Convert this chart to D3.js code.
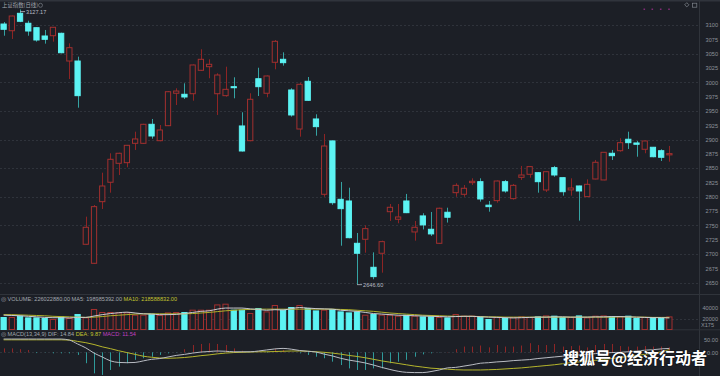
<!DOCTYPE html>
<html><head><meta charset="utf-8">
<script src="https://cdn.jsdelivr.net/npm/d3@7"></script>
<style>html,body{margin:0;padding:0;background:#1c1f26;overflow:hidden}svg{display:block}</style>
</head><body><svg id="c" width="720" height="376"></svg>
<script>
// ---------- DATA ----------
const openP = [3101.7,3090,3120.4,3103,3095.3,3080.8,3081.3,3085.5,3037.1,3037.1,
2717.1,2683.9,2791.5,2825.4,2858.5,2859.6,2893.4,2893.4,2926.6,2898,
2924.2,2980.8,2979,2980,3020.9,3027.2,2980,2976.6,2992.3,2923.7,
2898,3006.2,2980.8,3034.9,3040.1,2986.5,2918.4,3001.7,2935.9,2804.4,
2897.6,2795.6,2792.7,2718.8,2725.8,2676.9,2701.4,2774,2760.8,2792.7,
2738.6,2766.6,2743.3,2718.8,2773,2807.2,2804.4,2824.7,2826.4,2785.4,
2793.3,2826.4,2796.8,2834,2839.3,2842.1,2811.9,2850.9,2833.4,2812,
2818.9,2800.3,2831.1,2829.4,2876,2880.5,2900.5,2894,2883,2886.5,
2880.5,2873.2];
const closeP = [3092.5,3115.7,3106.5,3089.5,3073.8,3075,3096,3051.6,3060.4,2976.6,
2746.8,2782.8,2818.9,2865.5,2876,2889.9,2901,2926.6,2906.2,2916.7,
2983.5,2984.7,2974.3,3030.2,3040.1,3031.4,3012.7,2987.7,2990.5,2880,
2970.3,2992.3,3011,3071.5,3034.2,2942.9,2996.5,2968.5,2922.5,2888.7,
2789.7,2779.3,2728.6,2701.4,2744.4,2660.6,2721.7,2781.7,2764.8,2772.3,
2746.8,2750.9,2735.2,2780,2764.3,2820,2814.9,2827.1,2796.2,2782.8,
2827.6,2810.2,2820,2838.1,2852.7,2826.4,2843.8,2838.1,2808.9,2815.4,
2810.2,2821.8,2860.3,2877.7,2871.8,2894.5,2894.5,2891.7,2897.5,2870,
2869,2875.4];
const highP = [3105.2,3116.5,3127.17,3107.5,3096,3091.3,3096.5,3086.6,3068,3044.7,
2765.3,2785.7,2842.1,2876,2877,2890.5,2913.7,2927.5,2935.9,2925.4,
2984.7,2989.5,2998.2,3031,3057.6,3040.1,3015.7,3027.2,3008.7,2947.6,
2980.8,3025.4,3012,3073.8,3052.3,2989.5,2999.3,3009.2,2944.1,2909.7,
2898,2825.9,2815.9,2736.8,2750.2,2703,2723.4,2787.4,2787.4,2805,
2757.8,2771.3,2773.5,2781,2781,2823.6,2820.6,2832.3,2832.3,2792.7,
2828.5,2829.4,2822.4,2853.9,2853.5,2842.8,2844.5,2853.9,2834,2832.3,
2819.5,2830.5,2864.3,2878.3,2881.8,2902.3,2913.7,2897.5,2898,2887,
2883,2888.8];
const lowP = [3081.3,3075.6,3105,3081.3,3070.9,3067.4,3070.9,3050.6,3005.7,2955.6,
2716.5,2683,2778.7,2807.2,2838,2851.5,2881.8,2892.5,2901.5,2897,
2923.5,2960.3,2970.8,2967.8,3019.7,3007,2942.9,2974.8,2972,2879,
2897,2976,2973.8,3022.6,3029,2940,2905,2967.5,2906.7,2800,
2786,2714.6,2727.5,2646.6,2702.4,2656,2667.5,2757.8,2753.8,2771.5,
2723.4,2743,2731.6,2718,2755,2800,2800,2820.6,2791.5,2774,
2789.7,2807.2,2795,2829.4,2833.4,2807.2,2808.4,2835,2802,2802,
2758.4,2799.5,2830.5,2828.8,2864.3,2878.8,2883.5,2870,2876,2869,
2862.5,2861.3];
const volume = [21800,21800,24200,21100,21100,20000,18200,22900,20000,27300,
21100,36400,30900,30900,30200,30200,26000,26000,27800,25500,
30200,30900,30900,35100,35100,35100,44700,46000,35100,35100,
29100,38200,32000,43600,35100,40000,43600,38200,33800,35100,
36400,32000,30200,32000,26000,27300,26000,26000,24200,26000,
24200,22900,22900,21800,21100,27300,24200,24200,22900,18200,
21800,20000,21800,22900,21800,22900,24700,24200,21800,21800,
24700,21100,24200,24700,22900,22900,24200,20000,21800,21800,
20000,22900];
const volMA5 = [26000,25500,25000,24000,23000,22000,21500,21500,21000,22000,
22000,24500,27000,29000,30500,31500,30000,28500,28000,27000,
27000,27500,29000,31000,33000,34000,37000,39000,39000,39000,
37500,36500,35000,36000,35500,38000,40000,39000,38000,37500,
37000,35000,34000,33000,31000,29000,28000,27000,26000,25500,
25000,24500,24000,23500,23000,23500,24000,24000,23000,22500,
22000,21500,21000,21500,22000,22500,22500,23000,23000,22500,
22500,22500,23000,23000,23500,23500,23000,22500,22000,21500,
21500,21000];
const volMA10 = [27000,27000,26500,26000,25500,25000,24000,23500,23000,22500,
22000,22500,23500,25000,26000,27000,28000,28500,28500,28500,
28500,28500,28500,29000,30000,31000,32500,34000,35000,36000,
36500,37000,37000,37000,37000,37000,37000,37000,37000,37000,
37000,36500,36000,35000,34000,33000,31500,30000,29000,28000,
27000,26000,25500,25000,24500,24000,24000,24000,23500,23000,
23000,22500,22500,22500,22500,22500,22500,22500,22500,22500,
22500,22500,22500,22500,22500,23000,23000,22500,22500,22000,
22000,22000];
const dif = [51,51,51,51,51,51,51,51,47,32,
17,-3,-18,-33,-39,-40,-39,-33,-27,-24,
-18,-12,-8,-3,1,3,5,4,2,2,
2,5,9,13,15,12,7,4,1,-7,
-14,-23,-30,-35,-41,-49,-58,-66,-73,-77,
-78,-78,-74,-68,-60,-58,-53,-48,-42,-40,
-37,-35,-32,-30,-28,-24,-21,-18,-15,-13,
-10,-8,-5,-3,-1,0,2,5,8,10,
13,15];
const dea = [48,48,48,48,48,48,48,48,47,42,
37,30,21,14,6,-1,-8,-15,-19,-22,
-23,-22,-20,-17,-13,-10,-6,-3,-1,0,
1,2,2,3,4,5,5,4,2,0,
-3,-7,-12,-16,-21,-27,-33,-38,-43,-48,
-53,-57,-61,-63,-65,-67,-68,-68,-68,-67,
-66,-64,-62,-60,-57,-54,-51,-48,-44,-40,
-37,-34,-31,-28,-24,-20,-16,-12,-8,-4,
2,10];
const macdHist = [15,15,12,9,-3,-1,-4,-4,-4,-10,
-42,-81,-87,-68,-55,-42,-29,-23,-17,-10,
-4,-1,12,28,32,35,32,28,15,6,
2,3,-2,12,9,1,-4,-10,-17,-23,
-36,-49,-62,-68,-68,-62,-62,-42,-36,-29,
-17,-8,-4,-1,1,12,22,22,26,19,
28,22,22,26,35,28,28,32,22,24,
26,19,28,32,32,24,22,22,24,22,
22,19];
const priceTicks = [3100,3075,3050,3025,3000,2975,2950,2925,2900,2875,2850,2825,2800,2775,2750,2725,2700,2675,2650];
const priceGrid = [3100,3050,3000,2950,2900,2850,2800,2750,2700,2650];
const volTicks = [40000,20000];
const macdTicks = [50,0];
const highMark = {i:2, v:3127.17, label:"3127.17"};
const lowMark = {i:43, v:2646.60, label:"2646.60"};

// ---------- STYLE ----------
const BG="#1c1f26", UP="#a3302f", UPW="#8e2424", DN="#5cf3f3", DNW="#35a3a3", GRID="#2f333b", TXT="#8d929b";
const FONT="'Liberation Sans', Arial, sans-serif";

const svg = d3.select("#c");
svg.append("rect").attr("width",720).attr("height",376).attr("fill",BG);

const idx = d3.range(openP.length);
const x = d3.scaleBand().domain(idx).range([-0.5, 673.5]).paddingInner(0.24).paddingOuter(0.12);
const xc = i => x(i) + x.bandwidth()/2;
const y = d3.scaleLinear().domain([2650,3100]).range([282.7,25]);
const yv = d3.scaleLinear().domain([0,40000]).range([329.5,307.5]);
const ym = d3.scaleLinear().domain([-50,50]).range([365.3,339.3]);

// frame
svg.append("rect").attr("x",0).attr("y",0).attr("width",720).attr("height",1.5).attr("fill","#30343c");
svg.append("line").attr("x1",699.5).attr("x2",699.5).attr("y1",0).attr("y2",376).attr("stroke","#30343b");
[294.5,329.8].forEach(v=>svg.append("line").attr("x1",0).attr("x2",720).attr("y1",v).attr("y2",v).attr("stroke","#30343b"));

// price grid
svg.append("g").selectAll("line").data(priceGrid).join("line")
  .attr("x1",0).attr("x2",699).attr("y1",d=>Math.round(y(d))+0.5).attr("y2",d=>Math.round(y(d))+0.5)
  .attr("stroke",GRID).attr("stroke-dasharray","2,2");
// price axis
const yAxis = d3.axisRight(y).tickValues(priceTicks).tickSize(0).tickFormat(d3.format("d"));
const ga = svg.append("g").attr("transform","translate(718,0)").call(yAxis);
ga.select(".domain").remove();
ga.selectAll("text").attr("x",0).attr("text-anchor","end").attr("fill",TXT).style("font-size","5.6px").style("font-family",FONT);

// candles
const gC = svg.append("g");
idx.forEach(i=>{
  const o=openP[i], c=closeP[i], up = c>=o;
  const cx = Math.round(xc(i))+0.5;
  const top = y(Math.max(o,c)), bot = y(Math.min(o,c));
  gC.append("line").attr("x1",cx).attr("x2",cx).attr("y1",y(highP[i])).attr("y2",y(lowP[i]))
    .attr("stroke", up?UPW:DNW).attr("stroke-width",1);
  const h = Math.max(1, bot-top);
  gC.append("rect").attr("x",x(i)+0.5).attr("y",top).attr("width",x.bandwidth()-1).attr("height",h)
    .attr("fill", up?BG:DN).attr("stroke", up?UP:DN).attr("stroke-width",1);
});

// markers
[highMark, lowMark].forEach(m=>{
  const cx = xc(m.i), yy = y(m.v), ty = Math.max(yy + 2, 13.6);
  svg.append("line").attr("x1",cx).attr("x2",cx+5).attr("y1",ty-2).attr("y2",ty-2).attr("stroke","#b8bcc4").attr("stroke-width",0.8);
  svg.append("text").attr("x",cx+6).attr("y",ty).text(m.label).attr("fill","#b8bcc4").style("font-size","5.6px").style("font-family",FONT);
});

// title
svg.append("text").attr("x",2).attr("y",7.2).text("上证指数(日线)").attr("fill","#a3a8b0")
  .style("font-size","5.4px").style("font-family","'Noto Sans CJK SC', sans-serif");
svg.append("circle").attr("cx",40.5).attr("cy",5.3).attr("r",2).attr("fill","none").attr("stroke","#70757e").attr("stroke-width",0.8);
// top-right icons
[644.3,652.3,660.7,669].forEach(v=>svg.append("rect").attr("x",v-0.8).attr("y",8.6).attr("width",1.6).attr("height",1.2).attr("fill","#9c2f8a"));
svg.append("rect").attr("x",685.3).attr("y",3.3).attr("width",3).attr("height",3).attr("transform","rotate(45 686.8 4.8)").attr("fill","none").attr("stroke","#80858d").attr("stroke-width",0.7);
svg.append("rect").attr("x",692.5).attr("y",3.2).attr("width",4.3).attr("height",4).attr("fill","none").attr("stroke","#80858d").attr("stroke-width",0.7);

// ---------- VOLUME ----------
svg.append("line").attr("x1",0).attr("x2",699).attr("y1",Math.round(yv(20000))+0.5).attr("y2",Math.round(yv(20000))+0.5).attr("stroke",GRID).attr("stroke-dasharray","2,2");
const gV = svg.append("g");
idx.forEach(i=>{
  const up = closeP[i]>=openP[i];
  gV.append("rect").attr("x",x(i)+0.5).attr("y",yv(volume[i])).attr("width",x.bandwidth()-1).attr("height",yv(0)-yv(volume[i]))
    .attr("fill", up?BG:DN).attr("stroke", up?UP:DN).attr("stroke-width",1);
});
const lv = (arr)=>d3.line().x((d,i)=>xc(i)).y(d=>yv(d)).curve(d3.curveMonotoneX)(arr);
svg.append("path").attr("d",lv(volMA10)).attr("fill","none").attr("stroke","#b0b02a").attr("stroke-width",1);
svg.append("path").attr("d",lv(volMA5)).attr("fill","none").attr("stroke","#c9cbd0").attr("stroke-width",1);
const gva = svg.append("g").attr("transform","translate(718,0)").call(d3.axisRight(yv).tickValues(volTicks).tickSize(0).tickFormat(d3.format("d")));
gva.select(".domain").remove();
gva.selectAll("text").attr("x",0).attr("text-anchor","end").attr("fill",TXT).style("font-size","5.6px").style("font-family",FONT);
svg.append("text").attr("x",701).attr("y",327).text("X175").attr("fill",TXT).style("font-size","5.6px").style("font-family",FONT);

const vt = svg.append("text").attr("x",1).attr("y",301).style("font-size","5.6px").style("font-family",FONT);
vt.append("tspan").text("◎ VOLUME: 226022880.00  MA5: 198985392.00  ").attr("fill","#a3a8b0");
vt.append("tspan").text("MA10: 218588832.00").attr("fill","#c4c430");

// ---------- MACD ----------
svg.append("line").attr("x1",0).attr("x2",699).attr("y1",Math.round(ym(0))+0.5).attr("y2",Math.round(ym(0))+0.5).attr("stroke",GRID).attr("stroke-dasharray","2,2");
const gM = svg.append("g");
idx.forEach(i=>{
  const v = macdHist[i];
  gM.append("line").attr("x1",Math.round(xc(i))+0.5).attr("x2",Math.round(xc(i))+0.5).attr("y1",ym(0)).attr("y2",ym(v))
    .attr("stroke", v>=0?"#8f2626":"#2f9a9a").attr("stroke-width",1);
});
const lm = (arr)=>d3.line().x((d,i)=>xc(i)).y(d=>ym(d)).curve(d3.curveMonotoneX)(arr);
svg.append("path").attr("d",lm(dea)).attr("fill","none").attr("stroke","#b5b52c").attr("stroke-width",1);
svg.append("path").attr("d",lm(dif)).attr("fill","none").attr("stroke","#b9bcc3").attr("stroke-width",1);
const gma = svg.append("g").attr("transform","translate(718,0)").call(d3.axisRight(ym).tickValues(macdTicks).tickSize(0).tickFormat(d3.format(".2f")));
gma.select(".domain").remove();
gma.selectAll("text").attr("x",0).attr("text-anchor","end").attr("fill",TXT).style("font-size","5.6px").style("font-family",FONT);

const mt = svg.append("text").attr("x",1).attr("y",335.5).style("font-size","5.6px").style("font-family",FONT);
mt.append("tspan").text("◎ MACD(13,34,9)  DIF: 14.84  ").attr("fill","#a3a8b0");
mt.append("tspan").text("DEA: 9.87  ").attr("fill","#c4c430");
mt.append("tspan").text("MACD: 11.54").attr("fill","#c040c0");

// watermark
svg.append("text").attr("x",563).attr("y",363.5).text("搜狐号@经济行动者").attr("fill","#ffffff")
  .style("font-size","16px").style("font-weight","bold").style("font-family","'Noto Sans CJK SC', sans-serif")
  .style("paint-order","stroke").attr("stroke","rgba(0,0,0,0.35)").attr("stroke-width",1.5);
</script></body></html>
